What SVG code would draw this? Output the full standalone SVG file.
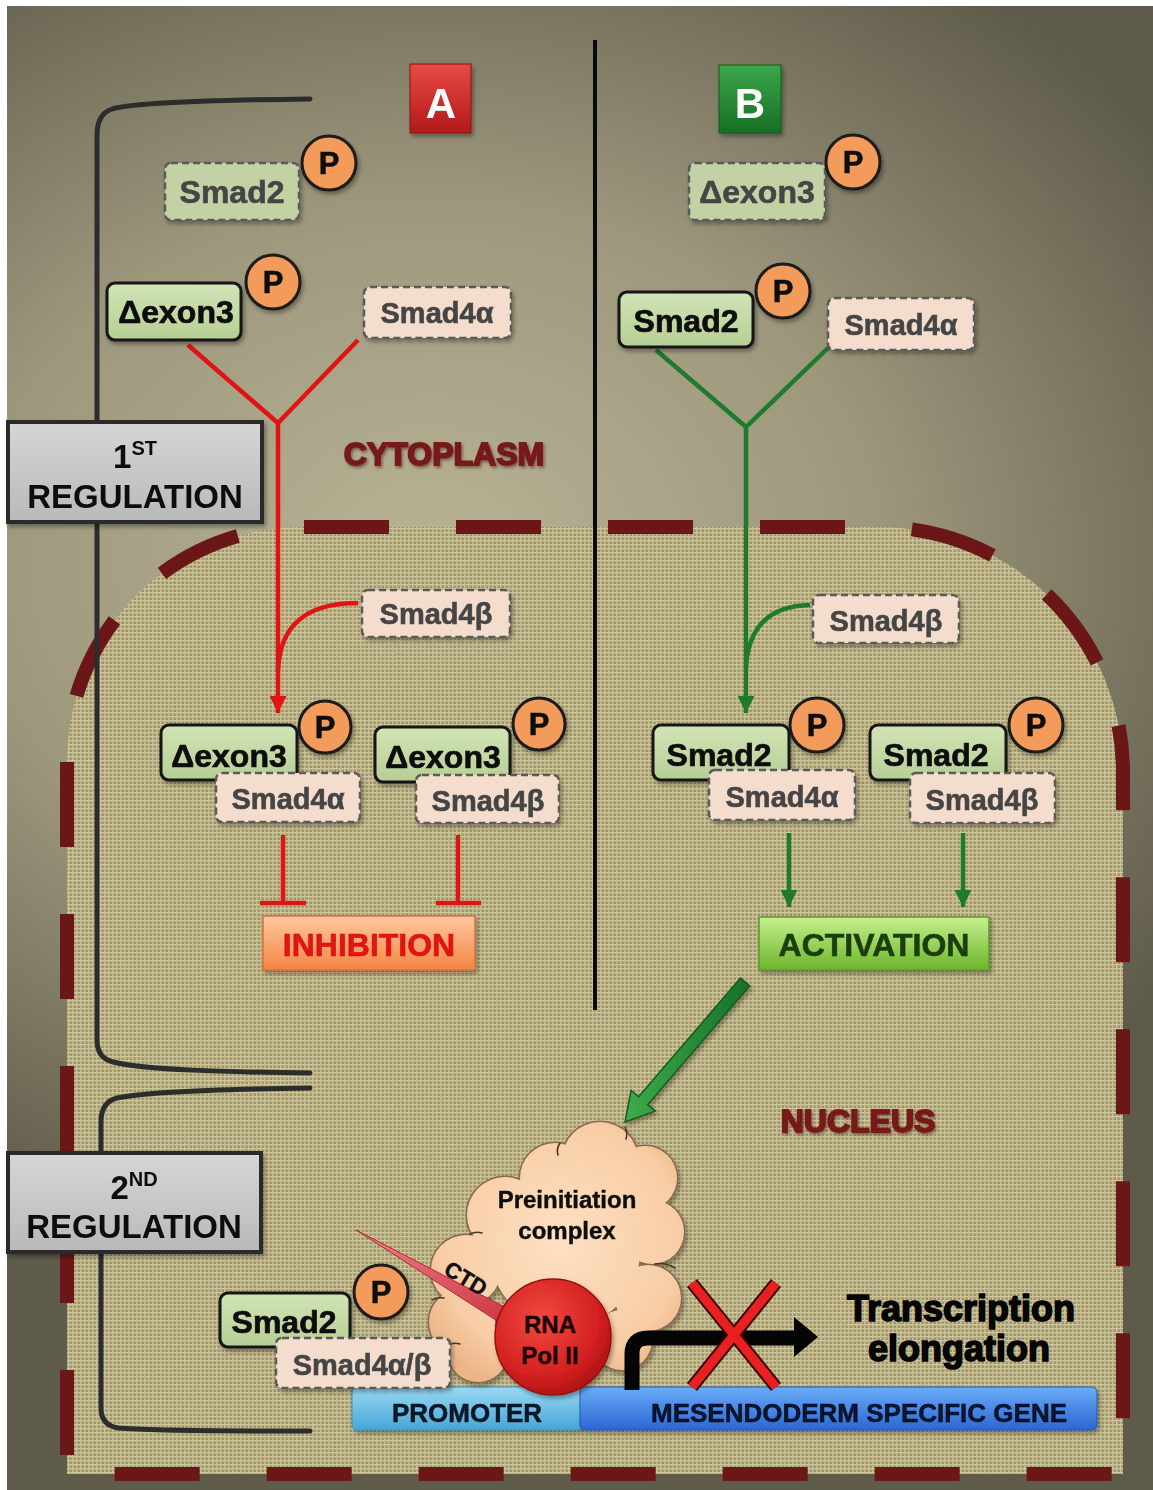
<svg xmlns="http://www.w3.org/2000/svg" width="1153" height="1490" viewBox="0 0 1153 1490">
  <defs>
    <style>
      .lbl { font-family: "Liberation Sans", Arial, Helvetica, sans-serif; font-weight: bold; text-anchor: middle; }
      .solid { fill: url(#gSolid); stroke: #141414; stroke-width: 3; }
      .dashg { fill: #c3d2a5; stroke: #5a5a5a; stroke-width: 2.5; stroke-dasharray: 7 4; }
      .dashp { fill: #f4ddcc; stroke: #5a5a5a; stroke-width: 2.5; stroke-dasharray: 7 4; }
      .pc { fill: #f29b5a; stroke: #1a1a1a; stroke-width: 3; }
      .tk { fill: #0e0e0e; stroke: #0e0e0e; stroke-width: 0.7; }
      .tg { fill: #454545; stroke: #454545; stroke-width: 0.6; }
      .big { font-size: 32px; }
      .mid { font-size: 29px; }
      .pt { font-size: 31px; fill: #0e0e0e; stroke: #0e0e0e; stroke-width: 0.6; }
      .red { stroke: #e01414; stroke-width: 4.5; fill: none; }
      .grn { stroke: #1f7a2e; stroke-width: 4.5; fill: none; }
      .brk { stroke: #2c2c2c; stroke-width: 5; fill: none; stroke-linecap: round; }
      .reg { font-size: 33px; fill: #0e0e0e; }
      .zone { font-size: 32px; fill: #761a1a; stroke: #761a1a; stroke-width: 1.8; }
    </style>

    <radialGradient id="bg" gradientUnits="userSpaceOnUse" cx="0" cy="0" r="1" gradientTransform="translate(430 560) scale(900 720)">
      <stop offset="0" stop-color="#b9b396"/>
      <stop offset="0.5" stop-color="#9d977c"/>
      <stop offset="1" stop-color="#5f5b4a"/>
    </radialGradient>

    <!-- woven nucleoplasm texture -->
    <pattern id="burlap" width="4" height="4" patternUnits="userSpaceOnUse">
      <rect width="4" height="4" fill="#b6ab7b"/>
      <rect y="0" width="4" height="1" fill="#dcd3a6" opacity="0.75"/>
      <rect x="0" width="1" height="4" fill="#d6cd9f" opacity="0.6"/>
      <rect x="2" y="2" width="2" height="2" fill="#877d56" opacity="0.55"/>
    </pattern>
    <filter id="grain" x="0" y="0" width="100%" height="100%">
      <feTurbulence type="fractalNoise" baseFrequency="0.45" numOctaves="2" seed="7"/>
      <feColorMatrix type="matrix" values="0 0 0 0.9 0  0 0 0 0.85 0  0 0 0 0.6 0  0 0 0 0 0.13"/>
    </filter>
    <clipPath id="nucClip">
      <path d="M67,1474 V762 A235,235 0 0 1 302,527 H878 A245,245 0 0 1 1123,772 V1474 Z"/>
    </clipPath>

    <linearGradient id="gSolid" x1="0" y1="0" x2="0" y2="1">
      <stop offset="0" stop-color="#d2e4b6"/>
      <stop offset="1" stop-color="#b6cf95"/>
    </linearGradient>
    <linearGradient id="gReg" x1="0" y1="0" x2="0" y2="1">
      <stop offset="0" stop-color="#d6d6d6"/>
      <stop offset="1" stop-color="#b9b9b9"/>
    </linearGradient>
    <linearGradient id="gA" x1="0" y1="0" x2="0" y2="1">
      <stop offset="0" stop-color="#ea4a42"/>
      <stop offset="1" stop-color="#b01a1a"/>
    </linearGradient>
    <linearGradient id="gB" x1="0" y1="0" x2="0" y2="1">
      <stop offset="0" stop-color="#3aa84a"/>
      <stop offset="1" stop-color="#176e25"/>
    </linearGradient>
    <linearGradient id="gInh" x1="0" y1="0" x2="0" y2="1">
      <stop offset="0" stop-color="#ffc89e"/>
      <stop offset="1" stop-color="#f38644"/>
    </linearGradient>
    <linearGradient id="gAct" x1="0" y1="0" x2="0" y2="1">
      <stop offset="0" stop-color="#c6f08e"/>
      <stop offset="1" stop-color="#6cb52a"/>
    </linearGradient>
    <linearGradient id="gProm" x1="0" y1="0" x2="0" y2="1">
      <stop offset="0" stop-color="#9ad9f3"/>
      <stop offset="1" stop-color="#46a6d6"/>
    </linearGradient>
    <linearGradient id="gGene" x1="0" y1="0" x2="0" y2="1">
      <stop offset="0" stop-color="#6aacf7"/>
      <stop offset="1" stop-color="#2a66d4"/>
    </linearGradient>
    <radialGradient id="gCloud" gradientUnits="userSpaceOnUse" cx="560" cy="1240" r="160">
      <stop offset="0" stop-color="#fde0c2"/>
      <stop offset="0.75" stop-color="#f8cda5"/>
      <stop offset="1" stop-color="#ecb487"/>
    </radialGradient>
    <radialGradient id="gPol" cx="0.4" cy="0.35" r="0.7">
      <stop offset="0" stop-color="#f04a40"/>
      <stop offset="0.7" stop-color="#d42020"/>
      <stop offset="1" stop-color="#a81212"/>
    </radialGradient>
    <linearGradient id="gCtd" x1="0" y1="0" x2="1" y2="1">
      <stop offset="0" stop-color="#f0808a"/>
      <stop offset="1" stop-color="#c8303c"/>
    </linearGradient>
    <linearGradient id="gArrow" x1="0" y1="0" x2="1" y2="0">
      <stop offset="0" stop-color="#3dab4a"/>
      <stop offset="1" stop-color="#17702a"/>
    </linearGradient>

    <filter id="shadow" x="-20%" y="-20%" width="140%" height="150%">
      <feDropShadow dx="2" dy="3" stdDeviation="2" flood-color="#000" flood-opacity="0.35"/>
    </filter>
    <filter id="soft" x="-10%" y="-30%" width="120%" height="160%">
      <feGaussianBlur stdDeviation="0.6" result="b"/>
      <feDropShadow in="b" dx="1.5" dy="2" stdDeviation="1.5" flood-color="#3a1010" flood-opacity="0.45"/>
    </filter>

    <marker id="arrR" viewBox="0 0 10 10" refX="10" refY="5" markerUnits="userSpaceOnUse" markerWidth="20" markerHeight="17" orient="auto">
      <path d="M0,0 L10,5 L0,10 Z" fill="#e01414"/>
    </marker>
    <marker id="arrG" viewBox="0 0 10 10" refX="10" refY="5" markerUnits="userSpaceOnUse" markerWidth="20" markerHeight="17" orient="auto">
      <path d="M0,0 L10,5 L0,10 Z" fill="#1f7a2e"/>
    </marker>

    <!-- lobes of the preinitiation-complex cloud -->
    <g id="cloudLobes">
      <circle cx="600" cy="1160" r="38"/>
      <circle cx="555" cy="1178" r="35"/>
      <circle cx="645" cy="1178" r="32"/>
      <circle cx="505" cy="1215" r="38"/>
      <circle cx="652" cy="1232" r="32"/>
      <circle cx="625" cy="1212" r="30"/>
      <circle cx="565" cy="1252" r="75"/>
      <circle cx="466" cy="1270" r="35"/>
      <circle cx="462" cy="1322" r="33"/>
      <circle cx="478" cy="1352" r="30"/>
      <circle cx="648" cy="1298" r="33"/>
      <circle cx="622" cy="1340" r="30"/>
    </g>
  </defs>

  <!-- backdrop: cytoplasm -->
  <rect width="1153" height="1490" fill="#ffffff"/>
  <rect x="7" y="6" width="1146" height="1484" fill="url(#bg)"/>

  <!-- nucleus with dashed envelope -->
  <g id="nucleus">
    <path d="M67,1474 V762 A235,235 0 0 1 302,527 H878 A245,245 0 0 1 1123,772 V1474 Z" fill="url(#burlap)"/>
    <rect x="60" y="520" width="1070" height="960" clip-path="url(#nucClip)" filter="url(#grain)"/>
    <path d="M67,1474 V762 A235,235 0 0 1 302,527 H878 A245,245 0 0 1 1123,772 V1474 Z" fill="none" stroke="#6b1717" stroke-width="14" stroke-dasharray="85 67" stroke-dashoffset="133"/>
  </g>

  <!-- regulation brackets and panel divider -->
  <g id="brackets">
    <path class="brk" d="M310,99 C220,100 135,102 112,109 Q97,114 97,135 V1040 Q97,1058 113,1062 C145,1070 225,1072 310,1073"/>
    <path class="brk" d="M310,1088 C225,1089 145,1092 117,1098 Q101,1102 101,1122 V1408 Q101,1425 118,1428 C150,1431 230,1431 310,1431"/>
    <line x1="595" y1="40" x2="595" y2="1010" stroke="#0a0a0a" stroke-width="4"/>
  </g>

  <!-- compartment labels -->
  <g id="labels" filter="url(#soft)">
    <text class="lbl zone" x="444" y="465">CYTOPLASM</text>
    <text class="lbl zone" x="858" y="1132" font-size="34">NUCLEUS</text>
  </g>

  <!-- connectors -->
  <g id="connectors">
    <!-- panel A: complex formation and inhibition -->
    <path class="red" d="M188,345 L278,423 M358,340 L278,423"/>
    <path class="red" d="M278,423 V713" marker-end="url(#arrR)"/>
    <path class="red" d="M358,603 C305,603 280,626 278,670"/>
    <path class="red" stroke-width="5" d="M283,835 V903 M260,903 H306 M458,835 V903 M436,903 H481"/>
    <!-- panel B: complex formation and activation -->
    <path class="grn" d="M656,350 L746,427 M829,347 L746,427"/>
    <path class="grn" d="M746,427 V713" marker-end="url(#arrG)"/>
    <path class="grn" d="M810,605 C766,606 748,630 746,668"/>
    <path class="grn" d="M789,833 V907" marker-end="url(#arrG)"/>
    <path class="grn" d="M963,833 V907" marker-end="url(#arrG)"/>
    <polygon points="749.6,985.9 647.8,1104.6 655.3,1111.1 625,1122 631.1,1090.3 638.6,1096.8 740.4,978.1" fill="url(#gArrow)" stroke="#135a1f" stroke-width="1.5" filter="url(#shadow)"/>
  </g>

  <!-- regulation boxes -->
  <g id="reg1" filter="url(#shadow)">
    <rect x="8" y="422" width="254" height="100" fill="url(#gReg)" stroke="#2b2b2b" stroke-width="4"/>
    <text class="lbl reg" x="135" y="468"><tspan>1</tspan><tspan font-size="20" dy="-13">ST</tspan></text>
    <text class="lbl reg" x="135" y="508">REGULATION</text>
  </g>
  <g id="reg2" filter="url(#shadow)">
    <rect x="8" y="1153" width="253" height="99" fill="url(#gReg)" stroke="#2b2b2b" stroke-width="4"/>
    <text class="lbl reg" x="134" y="1199"><tspan>2</tspan><tspan font-size="20" dy="-13">ND</tspan></text>
    <text class="lbl reg" x="134" y="1238">REGULATION</text>
  </g>

  <!-- panel badges -->
  <g id="badgeA" filter="url(#shadow)">
    <rect x="410" y="64" width="61" height="69" fill="url(#gA)" stroke="#8e1010" stroke-width="1"/>
    <text class="lbl" x="441" y="118" font-size="42" fill="#ffffff">A</text>
  </g>
  <g id="badgeB" filter="url(#shadow)">
    <rect x="719" y="65" width="62" height="68" fill="url(#gB)" stroke="#0f5a1a" stroke-width="1"/>
    <text class="lbl" x="750" y="118" font-size="42" fill="#ffffff">B</text>
  </g>

  <!-- panel A, cytoplasm -->
  <g id="a-smad2-cyt" filter="url(#shadow)">
    <rect class="dashg" x="165" y="163" width="134" height="57" rx="6"/>
    <text class="lbl big tg" x="232" y="203">Smad2</text>
    <circle class="pc" cx="329" cy="163" r="27"/>
    <text class="lbl pt" x="329" y="174">P</text>
  </g>
  <g id="a-dexon3-cyt" filter="url(#shadow)">
    <rect class="solid" x="107" y="283" width="134" height="57" rx="8"/>
    <text class="lbl big tk" x="176" y="323">Δexon3</text>
    <circle class="pc" cx="273" cy="282" r="27"/>
    <text class="lbl pt" x="273" y="293">P</text>
  </g>
  <g id="a-smad4a-cyt" filter="url(#shadow)">
    <rect class="dashp" x="364" y="287" width="147" height="51" rx="6"/>
    <text class="lbl mid tg" x="437" y="323">Smad4α</text>
  </g>

  <!-- panel A, nucleus -->
  <g id="a-smad4b-nuc" filter="url(#shadow)">
    <rect class="dashp" x="362" y="590" width="148" height="47" rx="6"/>
    <text class="lbl mid tg" x="436" y="624">Smad4β</text>
  </g>
  <g id="a-complex-alpha" filter="url(#shadow)">
    <rect class="solid" x="161" y="725" width="136" height="55" rx="8"/>
    <text class="lbl big tk" x="229" y="767">Δexon3</text>
    <circle class="pc" cx="325" cy="727" r="26"/>
    <text class="lbl pt" x="325" y="738">P</text>
    <rect class="dashp" x="216" y="773" width="144" height="49" rx="6"/>
    <text class="lbl mid tg" x="288" y="809">Smad4α</text>
  </g>
  <g id="a-complex-beta" filter="url(#shadow)">
    <rect class="solid" x="375" y="727" width="135" height="55" rx="8"/>
    <text class="lbl big tk" x="443" y="768">Δexon3</text>
    <circle class="pc" cx="539" cy="724" r="26"/>
    <text class="lbl pt" x="539" y="735">P</text>
    <rect class="dashp" x="416" y="775" width="143" height="48" rx="6"/>
    <text class="lbl mid tg" x="488" y="811">Smad4β</text>
  </g>
  <g id="inhibition" filter="url(#shadow)">
    <rect x="263" y="916" width="212" height="54" fill="url(#gInh)" stroke="#d8733c" stroke-width="1.5"/>
    <text class="lbl" x="369" y="956" font-size="32" fill="#e01212" stroke="#e01212" stroke-width="0.6">INHIBITION</text>
  </g>

  <!-- panel B, cytoplasm -->
  <g id="b-dexon3-cyt" filter="url(#shadow)">
    <rect class="dashg" x="689" y="163" width="136" height="57" rx="6"/>
    <text class="lbl big tg" x="757" y="203">Δexon3</text>
    <circle class="pc" cx="853" cy="162" r="27"/>
    <text class="lbl pt" x="853" y="173">P</text>
  </g>
  <g id="b-smad2-cyt" filter="url(#shadow)">
    <rect class="solid" x="619" y="292" width="134" height="55" rx="8"/>
    <text class="lbl big tk" x="686" y="332">Smad2</text>
    <circle class="pc" cx="783" cy="291" r="27"/>
    <text class="lbl pt" x="783" y="302">P</text>
  </g>
  <g id="b-smad4a-cyt" filter="url(#shadow)">
    <rect class="dashp" x="828" y="298" width="146" height="52" rx="6"/>
    <text class="lbl mid tg" x="901" y="335">Smad4α</text>
  </g>

  <!-- panel B, nucleus -->
  <g id="b-smad4b-nuc" filter="url(#shadow)">
    <rect class="dashp" x="813" y="595" width="146" height="48" rx="6"/>
    <text class="lbl mid tg" x="886" y="631">Smad4β</text>
  </g>
  <g id="b-complex-alpha" filter="url(#shadow)">
    <rect class="solid" x="653" y="725" width="136" height="55" rx="8"/>
    <text class="lbl big tk" x="719" y="766">Smad2</text>
    <circle class="pc" cx="817" cy="725" r="27"/>
    <text class="lbl pt" x="817" y="736">P</text>
    <rect class="dashp" x="709" y="770" width="146" height="50" rx="6"/>
    <text class="lbl mid tg" x="782" y="807">Smad4α</text>
  </g>
  <g id="b-complex-beta" filter="url(#shadow)">
    <rect class="solid" x="870" y="725" width="136" height="55" rx="8"/>
    <text class="lbl big tk" x="936" y="766">Smad2</text>
    <circle class="pc" cx="1036" cy="725" r="27"/>
    <text class="lbl pt" x="1036" y="736">P</text>
    <rect class="dashp" x="910" y="773" width="145" height="50" rx="6"/>
    <text class="lbl mid tg" x="982" y="810">Smad4β</text>
  </g>
  <g id="activation" filter="url(#shadow)">
    <rect x="759" y="917" width="230" height="53" fill="url(#gAct)" stroke="#5a9a2a" stroke-width="1.5"/>
    <text class="lbl" x="874" y="956" font-size="32" fill="#1b3d0e" stroke="#1b3d0e" stroke-width="0.6">ACTIVATION</text>
  </g>

  <!-- gene locus -->
  <g id="promoter" filter="url(#shadow)">
    <rect x="352" y="1387" width="230" height="43" rx="5" fill="url(#gProm)" stroke="#3a92c0" stroke-width="1"/>
    <text class="lbl" x="467" y="1422" font-size="26" fill="#0c1726" stroke="#0c1726" stroke-width="0.5">PROMOTER</text>
  </g>
  <g id="gene" filter="url(#shadow)">
    <rect x="580" y="1387" width="517" height="43" rx="5" fill="url(#gGene)" stroke="#2458b8" stroke-width="1"/>
    <text class="lbl" x="859" y="1422" font-size="26" fill="#07122a" stroke="#07122a" stroke-width="0.5">MESENDODERM SPECIFIC GENE</text>
  </g>

  <!-- preinitiation complex cloud: outlined lobes, then filled lobes on top -->
  <g id="preinitiation" filter="url(#shadow)">
    <use href="#cloudLobes" fill="none" stroke="#8a6a50" stroke-width="3"/>
    <use href="#cloudLobes" fill="url(#gCloud)"/>
    <!-- fold lines between the lobes -->
    <g fill="none" stroke="#4a3626" stroke-width="1.6" stroke-linecap="round">
      <path d="M560,1143 q-4,6 -2,12"/>
      <path d="M625,1127 q3,6 1,12"/>
      <path d="M470,1234 q6,-3 12,-1"/>
      <path d="M655,1264 q10,-2 20,4"/>
      <path d="M432,1300 q6,-3 12,-2"/>
      <path d="M448,1345 q6,-3 12,-1"/>
    </g>
    <text class="lbl" x="567" y="1208" font-size="24" fill="#0e0e0e" stroke="#0e0e0e" stroke-width="0.4">Preinitiation</text>
    <text class="lbl" x="567" y="1239" font-size="24" fill="#0e0e0e" stroke="#0e0e0e" stroke-width="0.4">complex</text>
  </g>

  <!-- RNA polymerase II with its CTD tail -->
  <g id="rnapol2">
    <polygon points="356,1230 524.6,1317.3 515.4,1332.7" fill="url(#gCtd)" stroke="#b02a34" stroke-width="1"/>
    <text class="lbl" x="0" y="0" font-size="22" fill="#0e0e0e" stroke="#0e0e0e" stroke-width="0.4" transform="translate(462 1285) rotate(31)">CTD</text>
    <circle cx="553" cy="1337" r="58" fill="url(#gPol)" stroke="#9a1010" stroke-width="1.5" filter="url(#shadow)"/>
    <text class="lbl" x="550" y="1333" font-size="24" fill="#1c0202" stroke="#1c0202" stroke-width="0.4">RNA</text>
    <text class="lbl" x="550" y="1364" font-size="24" fill="#1c0202" stroke="#1c0202" stroke-width="0.4">Pol II</text>
  </g>

  <!-- Smad2 / Smad4 complex at the promoter -->
  <g id="promoter-complex" filter="url(#shadow)">
    <rect class="solid" x="220" y="1293" width="130" height="54" rx="8"/>
    <text class="lbl big tk" x="284" y="1333">Smad2</text>
    <circle class="pc" cx="381" cy="1292" r="27"/>
    <text class="lbl pt" x="381" y="1303">P</text>
    <rect class="dashp" x="276" y="1338" width="174" height="50" rx="6"/>
    <text class="lbl mid tg" x="362" y="1375">Smad4α/β</text>
  </g>

  <!-- blocked transcription start -->
  <g id="tss">
    <path d="M632,1390 V1354 Q632,1338 648,1338 H798" fill="none" stroke="#050505" stroke-width="15"/>
    <polygon points="794,1317 818,1337 794,1357" fill="#050505"/>
    <path d="M692,1283 L776,1387 M776,1283 L692,1387" stroke="#3a0a0a" stroke-width="13"/>
    <path d="M692,1283 L776,1387 M776,1283 L692,1387" stroke="#ea2020" stroke-width="9"/>
  </g>
  <g id="elongation">
    <text class="lbl" x="961" y="1321" font-size="36" fill="#050505" stroke="#050505" stroke-width="1.6">Transcription</text>
    <text class="lbl" x="959" y="1361" font-size="36" fill="#050505" stroke="#050505" stroke-width="1.6">elongation</text>
  </g>
</svg>
